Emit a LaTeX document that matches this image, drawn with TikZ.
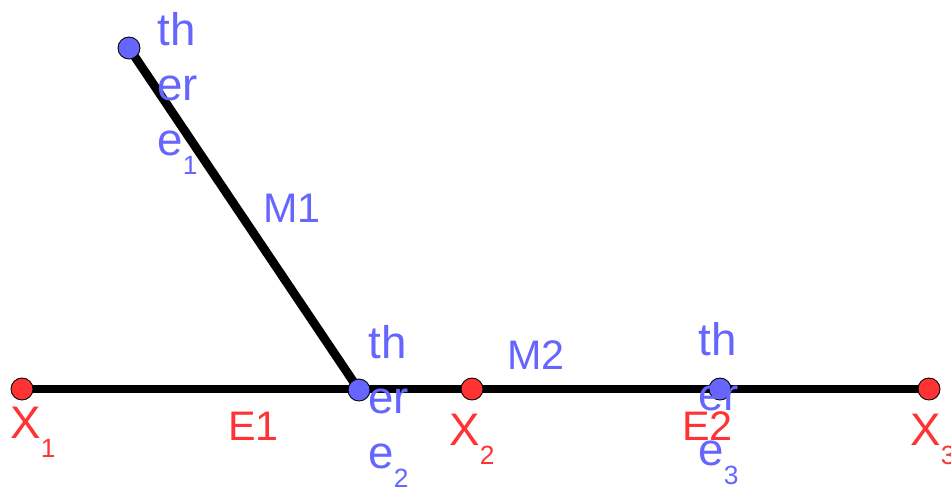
\documentclass[tikz,border=0pt]{standalone}
\usepackage{fontspec}
\setmainfont{Liberation Sans}
\usetikzlibrary{backgrounds}
\definecolor{ptblue}{RGB}{102,102,255}
\definecolor{ptred}{RGB}{255,51,51}
\newcommand{\lowsub}[1]{\raisebox{-11pt}{\fontsize{15}{15}\selectfont #1}}
\tikzset{
  seg/.style={line width=5pt, draw=black},
  ptdot/.style={circle, draw=black, line width=0.5pt, minimum size=0.44cm, inner sep=0pt},
  ptlabel/.style={inner sep=0pt, align=left, font=\fontsize{26}{31.3}\selectfont},
  seglabel/.style={inner sep=0pt, font=\fontsize{23.5}{28}\selectfont},
}

\begin{document}
\begin{tikzpicture}[x=0.02cm, y=-0.02cm]
  \useasboundingbox (0,0) rectangle (951,488);

  % points
  \node[ptdot, fill=ptblue] (there1) at (129,48) {};
  \node[ptdot, fill=ptblue] (there2) at (359,390) {};
  \node[ptdot, fill=ptblue] (there3) at (720,389) {};
  \node[ptdot, fill=ptred] (x1) at (22,389) {};
  \node[ptdot, fill=ptred] (x2) at (472,389) {};
  \node[ptdot, fill=ptred] (x3) at (929,389) {};

  \begin{scope}[on background layer]
    \draw[seg] (there1.center) -- (there2.center);
    \draw[seg] (x1.center) -- (x3.center);
  \end{scope}

  % labels
  \node[ptlabel, text=ptblue, anchor=north west] (lthere1) at (157,12) {th\\er\\e\lowsub{1}};
  \node[ptlabel, text=ptblue, anchor=north west] (lthere2) at (368,325) {th\\er\\e\lowsub{2}};
  \node[ptlabel, text=ptblue, anchor=north west] (lthere3) at (698,322) {th\\er\\e\lowsub{3}};
  \node[seglabel, text=ptblue, anchor=base west] (lm1) at (263,222) {M1};
  \node[seglabel, text=ptblue, anchor=base west] (lm2) at (507,369) {M2};
  \node[seglabel, text=ptred, anchor=base west] (le1) at (228,440) {E1};
  \node[seglabel, text=ptred, anchor=base west] (le2) at (682,440) {E2};
  \node[ptlabel, text=ptred, anchor=base west] (lx1) at (10,438) {X\lowsub{1}};
  \node[ptlabel, text=ptred, anchor=base west] (lx2) at (449,445) {X\lowsub{2}};
  \node[ptlabel, text=ptred, anchor=base west] (lx3) at (910,445) {X\lowsub{3}};
\end{tikzpicture}
\end{document}
